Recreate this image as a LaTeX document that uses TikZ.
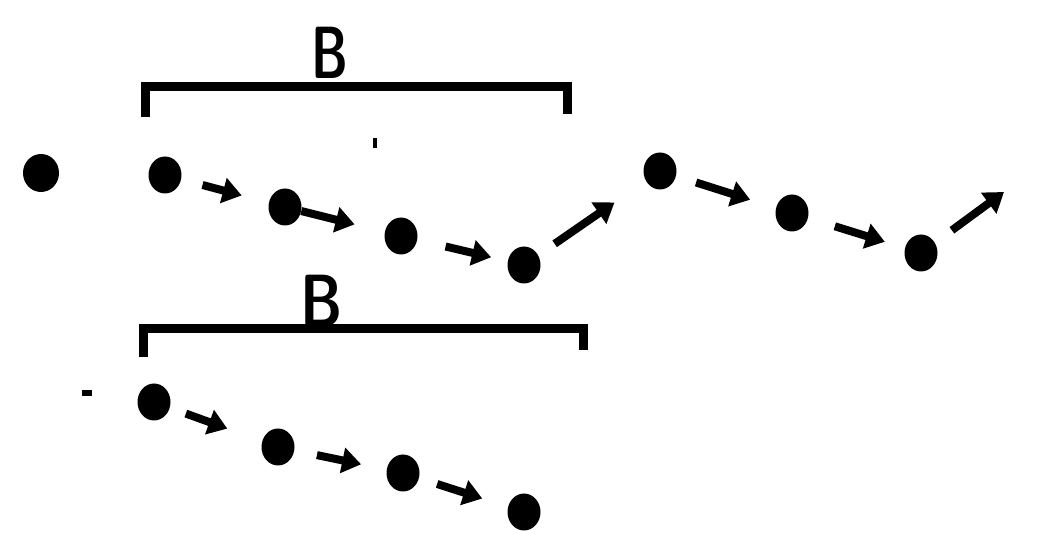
\documentclass[tikz,border=0pt]{standalone}
\usetikzlibrary{arrows.meta,shapes.geometric}
\begin{document}
\begin{tikzpicture}[x=1pt,y=-1pt,
  dot/.style={ellipse,fill=black,inner sep=0pt,minimum width=33pt,minimum height=37pt},
  arr/.style={line width=8pt,-{Triangle[length=19pt,width=25pt]}},
  brk/.style={line width=9pt},
  lbl/.style={inner sep=0pt,font=\fontsize{74}{74}\sffamily\bfseries}]
\useasboundingbox (0,0) rectangle (1037,534);
% labels
\node[lbl] (B1) at (330,53) {\scalebox{0.68}[1]{B}};
\node[lbl] (B2) at (322,301) {\scalebox{0.78}[1]{B}};
% brackets
\coordinate (t1) at (145,117); \coordinate (t2) at (145,87);
\coordinate (t3) at (567,87);  \coordinate (t4) at (567,114);
\draw[brk] (t1) -- (t2) -- (t3) -- (t4);
\coordinate (u1) at (143,357); \coordinate (u2) at (143,329);
\coordinate (u3) at (583,329); \coordinate (u4) at (583,350);
\draw[brk] (u1) -- (u2) -- (u3) -- (u4);
% specks
\fill (373,138) rectangle (377,148);
\fill (82,390) rectangle (92,396);
% top row
\node[dot,minimum width=36pt,minimum height=38pt] (a0) at (41,173) {};
\node[dot] (d1) at (165,175) {};
\node[dot] (d2) at (285,207) {};
\node[dot] (d3) at (401,236) {};
\node[dot] (d4) at (524,265) {};
\node[dot] (d5) at (660,171) {};
\node[dot] (d6) at (792,213) {};
\node[dot] (d7) at (921,253) {};
\coordinate (e7) at (1004,192);
\draw[arr,shorten <=22pt,shorten >=28pt] (d1) -- (d2);
\draw[arr,shorten <=0pt,shorten >=31pt] (d2) -- (d3);
\draw[arr,shorten <=29pt,shorten >=17pt] (d3) -- (d4);
\draw[arr,shorten <=20pt,shorten >=38pt] (d4) -- (d5);
\draw[arr,shorten <=21pt,shorten >=27pt] (d5) -- (d6);
\draw[arr,shorten <=28pt,shorten >=21pt] (d6) -- (d7);
\draw[arr,shorten <=21pt] (d7) -- (e7);
% bottom row
\node[dot] (b1) at (154,402) {};
\node[dot] (b2) at (278,447) {};
\node[dot] (b3) at (403,473) {};
\node[dot] (b4) at (524,512) {};
\draw[arr,shorten <=17pt,shorten >=37pt] (b1) -- (b2);
\draw[arr,shorten <=23pt,shorten >=26pt] (b2) -- (b3);
\draw[arr,shorten <=19pt,shorten >=27pt] (b3) -- (b4);
\end{tikzpicture}
\end{document}
